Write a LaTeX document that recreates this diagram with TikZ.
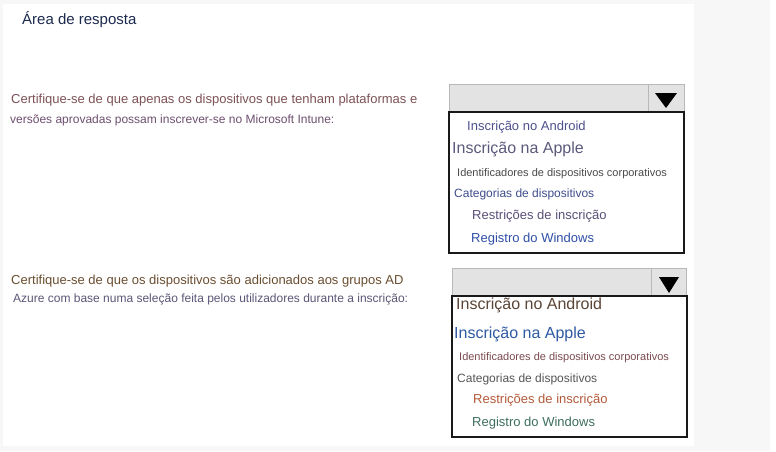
\documentclass[tikz,border=0pt]{standalone}
\usepackage{fontspec}
\setmainfont{Liberation Sans}
\usepackage{tikz}
\usetikzlibrary{positioning}

\definecolor{title_col}{HTML}{1C2A4E}
\definecolor{q_one_a}{HTML}{7D5257}
\definecolor{q_one_b}{HTML}{6D4F6F}
\definecolor{q_two_a}{HTML}{6B4E30}
\definecolor{q_two_b}{HTML}{5B5777}
\definecolor{l_one_and}{HTML}{4E4F8E}
\definecolor{l_one_app}{HTML}{5B5A7C}
\definecolor{l_one_ide}{HTML}{4A4A4A}
\definecolor{l_one_cat}{HTML}{3F4D8C}
\definecolor{l_one_res}{HTML}{5A4F78}
\definecolor{l_one_reg}{HTML}{2F4FA8}
\definecolor{l_two_and}{HTML}{5A4536}
\definecolor{l_two_app}{HTML}{2E5AA3}
\definecolor{l_two_ide}{HTML}{7A4A4E}
\definecolor{l_two_cat}{HTML}{555555}
\definecolor{l_two_res}{HTML}{B45A3A}
\definecolor{l_two_reg}{HTML}{3E6E5E}

\tikzset{
  txt/.style={anchor=base west, inner sep=0, font=\fontsize{#1}{#1}\selectfont},
  bar_box/.style={draw=black!28, fill=black!11, line width=1pt},
  list_box/.style={draw=black!90, fill=white, line width=1.2pt},
  arrow_tri/.style={fill=black, draw=none}
}

\begin{document}
\begin{tikzpicture}[x=1pt, y=-1pt]
\useasboundingbox (0,0) rectangle (776,451);
\fill[black!3] (0,0) rectangle (770,451);
\fill[white] (3,4) rectangle (694,446);

\node[txt=15, text=title_col] at (22,24.5) (title) {Área de resposta};

%% Question one
\node[txt=13, text=q_one_a] at (11,103.8) (qonea) {Certifique-se de que apenas os dispositivos que tenham plataformas e};
\node[txt=12, text=q_one_b] at (10,123.4) (qoneb) {versões aprovadas possam inscrever-se no Microsoft Intune:};

\draw[bar_box] (449,84) rectangle (684,112);
\draw[black!28, line width=1pt] (648,84) -- (648,112);
\fill[arrow_tri] (655,93) -- (677,93) -- (666,108) -- cycle;
\draw[list_box] (449,112) rectangle (684,253);

\node[txt=13, text=l_one_and] at (467,130) (oneand) {Inscrição no Android};
\node[txt=16, text=l_one_app] at (452,153) (oneapp) {Inscrição na Apple};
\node[txt=11, text=l_one_ide] at (457,176) (oneide) {Identificadores de dispositivos corporativos};
\node[txt=12, text=l_one_cat] at (454,197.5) (onecat) {Categorias de dispositivos};
\node[txt=13, text=l_one_res] at (472,219) (oneres) {Restrições de inscrição};
\node[txt=13, text=l_one_reg] at (471,242) (onereg) {Registro do Windows};

%% Question two
\node[txt=13, text=q_two_a] at (11,284.8) (qtwoa) {Certifique-se de que os dispositivos são adicionados aos grupos AD};
\node[txt=12, text=q_two_b] at (13,302.4) (qtwob) {Azure com base numa seleção feita pelos utilizadores durante a inscrição:};

\draw[bar_box] (452,268) rectangle (686,296);
\draw[black!28, line width=1pt] (651,268) -- (651,296);
\fill[arrow_tri] (659,277) -- (679,277) -- (669,293) -- cycle;
\draw[list_box] (452,296) rectangle (687,437);

\node[txt=16, text=l_two_and] at (456,309) (twoand) {Inscrição no Android};
\node[txt=16, text=l_two_app] at (454,338) (twoapp) {Inscrição na Apple};
\node[txt=11, text=l_two_ide] at (459,360) (twoide) {Identificadores de dispositivos corporativos};
\node[txt=12, text=l_two_cat] at (457,382.5) (twocat) {Categorias de dispositivos};
\node[txt=13, text=l_two_res] at (473,403) (twores) {Restrições de inscrição};
\node[txt=13, text=l_two_reg] at (472,426) (tworeg) {Registro do Windows};

\end{tikzpicture}
\end{document}
